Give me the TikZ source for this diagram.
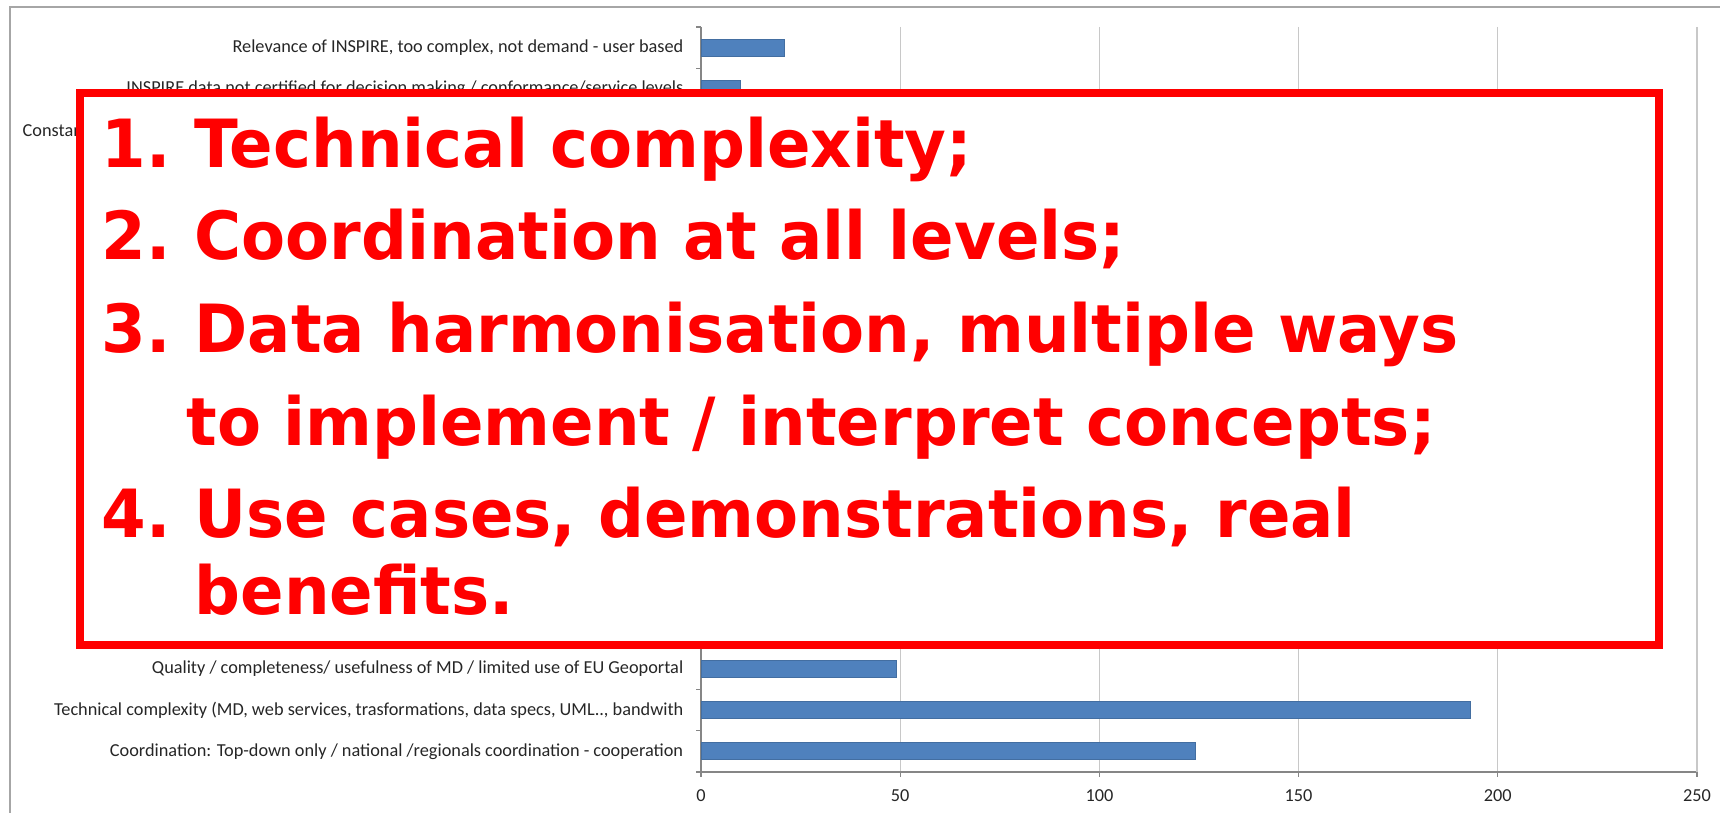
\documentclass[tikz,border=0pt]{standalone}
\usepackage{fontspec}
\setmainfont{Carlito}
\newfontfamily\boxfont[FakeStretch=0.965]{DejaVu Sans Bold}
\definecolor{cBlue}{HTML}{4F81BD}
\definecolor{cGrid}{HTML}{C8C8C8}
\definecolor{cAxis}{HTML}{868686}
\definecolor{cFrame}{HTML}{A6A6A6}
\tikzstyle{cLabel} = [anchor=east, inner sep=0pt, font=\fontsize{5.2}{6}\selectfont, text=black!85]
\tikzstyle{cValue} = [anchor=center, inner sep=0pt, font=\fontsize{5.2}{6}\selectfont, text=black!85]
\tikzstyle{cBar} = [fill=cBlue, draw=cBlue!85!black, line width=0.2pt]
\tikzstyle{fBox} = [rectangle, draw=red, fill=white, line width=0.08cm, minimum width=15.79cm, minimum height=5.515cm, inner sep=0pt]
\tikzstyle{fLine} = [anchor=base west, inner sep=0pt, text=red, font=\boxfont\fontsize{18.9}{22}\selectfont]

\begin{document}
\begin{tikzpicture}[x=0.01cm, y=-0.01cm]
    \useasboundingbox (0,0) rectangle (1720,813);
    % chart frame, grid and axes
    \draw [cFrame, line width=0.015cm] (10,813) |- (1720,7);
    \foreach \v in {50,100,...,250} {
        \draw [cGrid, line width=0.012cm] ({701+\v*3.984},27) -- ({701+\v*3.984},772);
        \draw [cAxis, line width=0.012cm] ({701+\v*3.984},772) -- ({701+\v*3.984},777);
    }
    \foreach \v in {0,50,...,250}
        \node (val\v) [cValue] at ({701+\v*3.984},796) {\v};
    \draw [cAxis, line width=0.012cm] (701,27) -- (701,777);
    \draw [cAxis, line width=0.012cm] (701,772) -- (1696,772);
    \foreach \k in {0,...,18}
        \draw [cAxis, line width=0.012cm] (696,{772-41.39*\k}) -- (701,{772-41.39*\k});
    % bars: value/row
    \foreach \val/\row in {124/1, 193/2, 49/3, 10/17, 21/18}
        \draw [cBar] (701,{772-41.39*(\row-0.5)-8.5}) rectangle ({701+\val*3.984},{772-41.39*(\row-0.5)+8.5});
    % category labels
    \node (lab1) [cLabel] at (684,751.3) {Coordination: Top-down only / national /regionals coordination - cooperation};
    \node (lab2) [cLabel] at (684,709.9) {Technical complexity (MD, web services, trasformations, data specs, UML.., bandwith};
    \node (lab3) [cLabel] at (684,668.5) {Quality / completeness/ usefulness of MD / limited use of EU Geoportal};
    \node (lab16) [cLabel, anchor=west] at (22,130.5) {Constan};
    \node (lab17) [cLabel] at (684,89.1) {INSPIRE data not certified for decision making / conformance/service levels};
    \node (lab18) [cLabel] at (684,47.7) {Relevance of INSPIRE, too complex, not demand - user based};
    % highlighted summary
    \node (box) [fBox] at (869.5,368.75) {};
    \node (num1) [fLine] at (101,168) {1.};
    \node (item1) [fLine] at (194,168) {Technical complexity;};
    \node (num2) [fLine] at (101,260) {2.};
    \node (item2) [fLine] at (194,260) {Coordination at all levels;};
    \node (num3) [fLine] at (101,353) {3.};
    \node (item3) [fLine] at (194,353) {Data harmonisation, multiple ways};
    \node (item3b) [fLine] at (186,446) {to implement / interpret concepts;};
    \node (num4) [fLine] at (101,538) {4.};
    \node (item4) [fLine] at (194,538) {Use cases, demonstrations, real};
    \node (item4b) [fLine] at (194,615) {benefits.};
\end{tikzpicture}
\end{document}
